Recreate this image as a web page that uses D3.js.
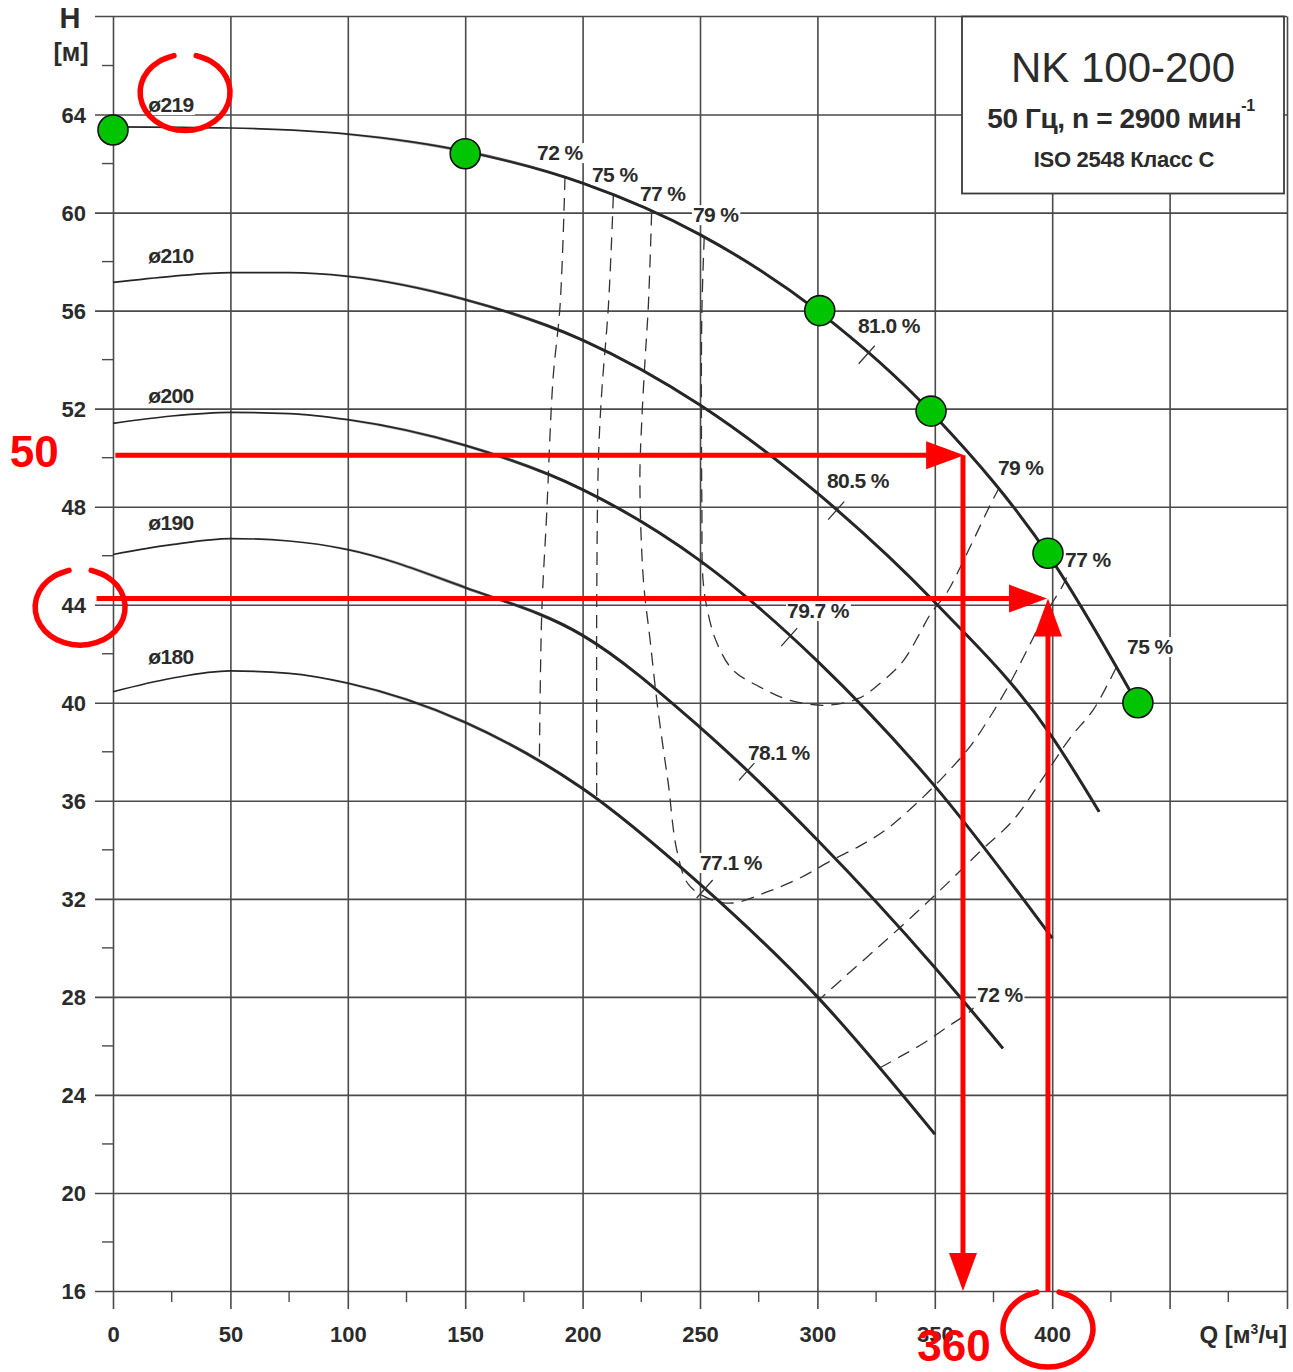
<!DOCTYPE html>
<html>
<head>
<meta charset="utf-8">
<script src="https://cdn.jsdelivr.net/npm/d3@7"></script>
<style>
body { margin: 0; background: #fff; }
svg text { font-family: "Liberation Sans", Arial, sans-serif; font-weight: bold; fill: #2b2b2b; }
</style>
</head>
<body>
<div id="chart"></div>
<script>
// pump curves, Q in m3/h, H in m
var q219 = [0, 50, 100, 150, 200, 250, 300, 350, 400, 436];
var h219 = [63.5, 63.45, 63.2, 62.5, 61.2, 59.1, 56.0, 51.7, 45.8, 40.0];
var q210 = [0, 25, 50, 75, 100, 150, 200, 250, 300, 350, 400, 420];
var h210 = [57.15, 57.4, 57.55, 57.55, 57.4, 56.45, 54.8, 52.15, 48.55, 44.1, 38.6, 35.55];
var q200 = [0, 25, 50, 75, 100, 150, 200, 250, 300, 350, 400];
var h200 = [51.4, 51.7, 51.85, 51.8, 51.55, 50.5, 48.7, 45.8, 41.7, 36.6, 30.4];
var q190 = [0, 25, 50, 75, 100, 150, 200, 250, 300, 350, 379];
var h190 = [46.05, 46.45, 46.7, 46.6, 46.25, 44.7, 42.75, 39.0, 34.4, 29.2, 25.9];
var q180 = [0, 25, 50, 75, 100, 150, 200, 250, 300, 350];
var h180 = [40.45, 41.0, 41.3, 41.2, 40.8, 39.2, 36.5, 32.6, 28.0, 22.4];

var diameters = ["ø219", "ø210", "ø200", "ø190", "ø180"];
var curvesQ = [q219, q210, q200, q190, q180];
var curvesH = [h219, h210, h200, h190, h180];
// label spot for each diameter (left edge, baseline)
var diamLabelQ = [15, 15, 15, 15, 15];
var diamLabelH = [64.1, 57.95, 52.25, 47.05, 41.6];

// efficiency contours [Q, H]
var eff72a = [[192.5, 61.45], [190.4, 56.2], [187.4, 53.2], [184.7, 47.7], [182.6, 43.65], [181.6, 37.6]];
var eff75a = [[213.1, 60.7], [211, 56.2], [208.1, 52.6], [206.7, 49.8], [206, 43.7], [206, 39.6], [206, 36.1]];
var eff77 = [[229.4, 60.0], [228, 56.2], [226.6, 54], [225.2, 51.5], [224.4, 49.1], [225.9, 45], [228.7, 42.6],
             [231.6, 40.1], [234.4, 38.1], [236.5, 36.7], [240.1, 34], [245, 32.6], [254, 32.0], [264.1, 31.83],
             [278.5, 32.28], [292.6, 32.85], [306.2, 33.58], [318.1, 34.16], [329.6, 34.85], [343.7, 36.03],
             [354.3, 37.05], [364.9, 38.2], [373.5, 39.42], [382, 40.8], [389.3, 42.15], [396.9, 43.58],
             [404.6, 44.8], [406.5, 45.2]];
var eff79 = [[251.8, 59.0], [250.8, 56], [250.6, 52], [250.8, 48], [251.3, 45], [253.4, 43.66], [257.2, 42.44],
             [264, 41.34], [275.6, 40.64], [288.3, 40.1], [304, 39.9], [318, 40.2], [328, 40.9], [336.5, 41.7],
             [343.7, 42.85], [348, 43.6], [355.2, 44.5], [360.7, 45.5], [367.1, 46.77], [373.5, 48.05], [377, 48.7]];
var eff75b = [[427.3, 41.45], [424.6, 40.93], [417.4, 39.7], [407.6, 38.56], [396.9, 37.05], [383.3, 35.2],
              [370, 34.0], [355, 32.6], [340, 31.25], [325, 29.95], [312, 28.85], [301.5, 27.95]];
var eff72b = [[326.5, 25.1], [335, 25.55], [345, 26.1], [355, 26.75], [365, 27.4], [366.5, 27.55]];
var effContours = [eff72a, eff75a, eff77, eff79, eff75b, eff72b];

var effLabels = ["72 %", "75 %", "77 %", "79 %", "81.0 %", "80.5 %", "79.7 %", "78.1 %", "77.1 %", "79 %", "77 %", "75 %", "72 %"];
var effLabelQ = [180.6, 204.0, 224.4, 247.0, 317.3, 304.1, 287.1, 270.4, 250.0, 376.9, 405.5, 431.9, 368.0];
var effLabelH = [62.14, 61.25, 60.47, 59.61, 55.09, 48.76, 43.46, 37.66, 33.18, 49.29, 45.54, 41.99, 27.79];

// best efficiency marks on each curve
var bepQ = [321, 308, 288, 270, 252];
var bepH = [54.2, 47.84, 42.68, 37.2, 32.4];

// marked duty points
var pointQ = [0, 150, 301, 348.4, 398.2, 436.5];
var pointH = [63.37, 62.4, 56.0, 51.9, 46.1, 40.0];

var xTicks = [0, 50, 100, 150, 200, 250, 300, 350, 400, 450, 500];
var yTicks = [16, 20, 24, 28, 32, 36, 40, 44, 48, 52, 56, 60, 64];

// red annotations
var hArrowQ0 = [1, -7];
var hArrowQ1 = [362.5, 397.8];
var hArrowH = [50.1, 44.25];
var vArrowQ = [362, 398.2];
var vArrowH0 = [50.1, 16];
var vArrowH1 = [16, 44.25];
var redTexts = ["50", "360"];
var redTextQ = [-44, 342.5];
var redTextH = [49.6, 13.15];
var ringQ = [30.7, -14, 398.2];
var ringH = [64.9, 43.9, 14.45];

var W = 1293, H = 1372;
var x = d3.scaleLinear().domain([0, 500]).range([113, 1287]);
var y = d3.scaleLinear().domain([16, 68]).range([1291, 16.5]);

var svg = d3.select("#chart").append("svg").attr("width", W).attr("height", H);

var gridColor = "#4a4a4a";

// horizontal grid with labels
var yAxis = d3.axisLeft(y).tickValues(yTicks).tickSize(x(500) - 95).tickPadding(9);
var gy = svg.append("g").attr("transform", "translate(" + x(500) + ",0)").call(yAxis);
gy.select(".domain").remove();
gy.selectAll("line").attr("stroke", gridColor).attr("stroke-width", 1.6);
gy.selectAll("text").attr("font-size", 22).attr("fill", "#2b2b2b").attr("dy", "0.36em");

// top border
svg.append("line").attr("x1", 95).attr("x2", x(500)).attr("y1", y(68)).attr("y2", y(68))
   .attr("stroke", gridColor).attr("stroke-width", 1.6);

// minor y ticks
svg.append("g").selectAll("line").data(d3.range(18, 68, 4)).enter().append("line")
   .attr("x1", x(0) - 11).attr("x2", x(0)).attr("y1", function(d) { return y(d); }).attr("y2", function(d) { return y(d); })
   .attr("stroke", gridColor).attr("stroke-width", 1.4);

// vertical grid with labels
var xAxis = d3.axisBottom(x).tickValues(xTicks).tickSize(1309 - y(68)).tickPadding(17)
   .tickFormat(function(d) { return d <= 400 ? d : ""; });
var gx = svg.append("g").attr("transform", "translate(0," + y(68) + ")").call(xAxis);
gx.select(".domain").remove();
gx.selectAll("line").attr("stroke", gridColor).attr("stroke-width", 1.6);
gx.selectAll("text").attr("font-size", 22).attr("fill", "#2b2b2b");

// minor x ticks
svg.append("g").selectAll("line").data(d3.range(25, 500, 50)).enter().append("line")
   .attr("x1", function(d) { return x(d); }).attr("x2", function(d) { return x(d); })
   .attr("y1", y(16)).attr("y2", y(16) + 11)
   .attr("stroke", gridColor).attr("stroke-width", 1.4);

// axis titles
svg.append("text").attr("x", 70).attr("y", 28).attr("text-anchor", "middle").attr("font-size", 29).text("H");
svg.append("text").attr("x", 71).attr("y", 61).attr("text-anchor", "middle").attr("font-size", 25).text("[м]");
var qt = svg.append("text").attr("x", x(500)).attr("y", 1343).attr("text-anchor", "end").attr("font-size", 24);
qt.append("tspan").text("Q [м");
qt.append("tspan").attr("font-size", 14).attr("dy", -9).text("3");
qt.append("tspan").attr("dy", 9).text("/ч]");

// title box
svg.append("rect").attr("x", 962).attr("y", y(68)).attr("width", 322).attr("height", 177)
   .attr("fill", "#fff").attr("stroke", "#3a3a3a").attr("stroke-width", 1.8);
svg.append("text").attr("x", 1123).attr("y", 82).attr("text-anchor", "middle").attr("font-size", 42)
   .style("font-weight", "normal").text("NK 100-200");
var t2 = svg.append("text").attr("x", 1121).attr("y", 128).attr("text-anchor", "middle").attr("font-size", 28)
   .attr("letter-spacing", -0.4);
t2.append("tspan").text("50 Гц, n = 2900 мин");
t2.append("tspan").attr("font-size", 16).attr("dy", -17).text("-1");
svg.append("text").attr("x", 1124).attr("y", 167).attr("text-anchor", "middle").attr("font-size", 22)
   .attr("letter-spacing", -0.3).text("ISO 2548 Класс C");

// efficiency contours
var effLine = d3.line().x(function(d) { return x(d[0]); }).y(function(d) { return y(d[1]); })
   .curve(d3.curveCatmullRom.alpha(0.5));
svg.append("g").selectAll("path").data(effContours).enter().append("path")
   .attr("d", effLine).attr("fill", "none").attr("stroke", "#333")
   .attr("stroke-width", 1.3).attr("stroke-dasharray", "13,8");

// impeller curves: thin on the left, getting heavier to the right
var pumpLine = d3.line().x(function(d) { return x(d[0]); }).y(function(d) { return y(d[1]); })
   .curve(d3.curveMonotoneX);
var curves = curvesQ.map(function(qs, i) {
    return qs.map(function(q, j) { return [q, curvesH[i][j]]; });
});
var defs = svg.append("defs");
var grad = defs.append("linearGradient").attr("id", "fade").attr("gradientUnits", "userSpaceOnUse")
   .attr("x1", x(90)).attr("x2", x(190)).attr("y1", 0).attr("y2", 0);
grad.append("stop").attr("offset", 0).attr("stop-color", "#000");
grad.append("stop").attr("offset", 1).attr("stop-color", "#fff");
defs.append("mask").attr("id", "thick").attr("maskUnits", "userSpaceOnUse")
   .attr("x", 0).attr("y", 0).attr("width", W).attr("height", H)
   .append("rect").attr("width", W).attr("height", H).attr("fill", "url(#fade)");
var gc = svg.append("g");
gc.selectAll("path.thin").data(curves).enter().append("path").attr("class", "thin")
   .attr("d", pumpLine).attr("fill", "none").attr("stroke", "#262626").attr("stroke-width", 1.7);
gc.selectAll("path.thick").data(curves).enter().append("path").attr("class", "thick")
   .attr("d", pumpLine).attr("fill", "none").attr("stroke", "#262626").attr("stroke-width", 3)
   .attr("mask", "url(#thick)");

// best efficiency ticks
svg.append("g").selectAll("line").data(bepQ).enter().append("line")
   .attr("x1", function(d) { return x(d) - 8; }).attr("x2", function(d) { return x(d) + 8; })
   .attr("y1", function(d, i) { return y(bepH[i]) + 9; }).attr("y2", function(d, i) { return y(bepH[i]) - 9; })
   .attr("stroke", "#333").attr("stroke-width", 1.3);

// labels with white background
function label(txt, q, h, size) {
    var g = svg.append("g");
    var t = g.append("text").attr("x", x(q)).attr("y", y(h)).attr("font-size", size)
       .attr("letter-spacing", -0.6).text(txt);
    var b = t.node().getBBox();
    g.insert("rect", "text").attr("x", b.x - 1).attr("y", b.y + 2).attr("width", b.width + 2)
       .attr("height", b.height - 3).attr("fill", "#fff");
}
diameters.forEach(function(d, i) { label(d, diamLabelQ[i], diamLabelH[i], 21); });
effLabels.forEach(function(d, i) { label(d, effLabelQ[i], effLabelH[i], 21); });

// duty points
svg.append("g").selectAll("circle").data(pointQ).enter().append("circle")
   .attr("cx", function(d) { return x(d); }).attr("cy", function(d, i) { return y(pointH[i]); })
   .attr("r", 15).attr("fill", "#00c400").attr("stroke", "#111").attr("stroke-width", 1.6);

// red annotations
var red = "#ff0000";
var ga = svg.append("g");
hArrowQ0.forEach(function(q0, i) {
    var xa = x(q0), xb = x(hArrowQ1[i]), yy = y(hArrowH[i]);
    ga.append("line").attr("x1", xa).attr("x2", xb - 30).attr("y1", yy).attr("y2", yy)
      .attr("stroke", red).attr("stroke-width", 5);
    ga.append("path").attr("d", "M" + xb + "," + yy + "L" + (xb - 38) + "," + (yy - 14) + "L" + (xb - 38) + "," + (yy + 14) + "Z")
      .attr("fill", red);
});
vArrowQ.forEach(function(q, i) {
    var xx = x(q), ya = y(vArrowH0[i]), yb = y(vArrowH1[i]);
    var dir = yb > ya ? 1 : -1;
    ga.append("line").attr("x1", xx).attr("x2", xx).attr("y1", ya).attr("y2", yb - dir * 30)
      .attr("stroke", red).attr("stroke-width", 5);
    ga.append("path").attr("d", "M" + xx + "," + yb + "L" + (xx - 14) + "," + (yb - dir * 38) + "L" + (xx + 14) + "," + (yb - dir * 38) + "Z")
      .attr("fill", red);
});
redTexts.forEach(function(t, i) {
    ga.append("text").attr("x", x(redTextQ[i])).attr("y", y(redTextH[i])).attr("font-size", 44)
      .style("fill", red).text(t);
});
// hand drawn rings, open at the top
var ring = d3.line().curve(d3.curveCardinal);
ringQ.forEach(function(q, i) {
    var cx = x(q), cy = y(ringH[i]);
    var pts = d3.range(0, 17).map(function(k) {
        var a = -Math.PI / 2 + 0.25 + k * (2 * Math.PI - 0.5) / 16;
        return [cx + 45 * Math.cos(a), cy + 38 * Math.sin(a)];
    });
    ga.append("path").attr("d", ring(pts)).attr("fill", "none").attr("stroke", red)
      .attr("stroke-width", 5.5).attr("stroke-linecap", "round");
});
</script>
</body>
</html>
